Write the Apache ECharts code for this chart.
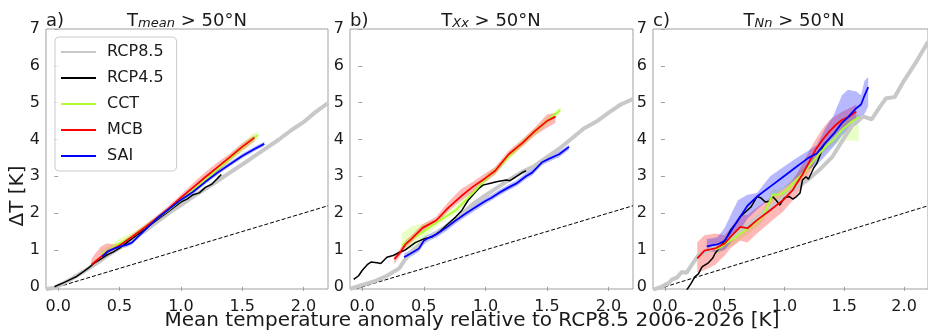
<!DOCTYPE html>
<html>
<head>
<meta charset="utf-8">
<script src="https://cdn.jsdelivr.net/npm/echarts@6/dist/echarts.min.js"></script>
<style>
html,body{margin:0;padding:0;background:#fff}
#chart{width:928px;height:331px}
</style>
</head>
<body>
<div id="chart"></div>
<script>
const xTicks=[0,0.5,1.0,1.5,2.0]
const yTicks=[0,1,2,3,4,5,6,7]
const legendNames=['RCP8.5','RCP4.5','CCT','MCB','SAI']
const panelLabels=['a)','b)','c)']
const panelVars=['mean','Xx','Nn']
const oneToOne=[[-0.1,-0.1],[2.2,2.2]]

// panel a  (Tmean)
const aRCP85=[[-0.1,-0.06],[-0.05,-0.04],[0.0,0.02],[0.1,0.2],[0.2,0.4],[0.3,0.62],[0.4,0.85],[0.5,1.05],[0.6,1.28],[0.7,1.5],[0.8,1.75],[0.9,2.0],[1.0,2.22],[1.1,2.45],[1.2,2.66],[1.3,2.88],[1.4,3.1],[1.5,3.32],[1.6,3.55],[1.7,3.77],[1.8,4.0],[1.9,4.25],[2.0,4.47],[2.1,4.75],[2.2,4.99]]
const aRCP45=[[-0.03,0.0],[0.0,0.05],[0.05,0.12],[0.1,0.2],[0.15,0.28],[0.2,0.4],[0.25,0.52],[0.3,0.66],[0.35,0.76],[0.4,0.87],[0.45,0.95],[0.5,1.05],[0.6,1.3],[0.7,1.55],[0.8,1.8],[0.9,2.05],[1.0,2.3],[1.05,2.38],[1.1,2.5],[1.15,2.55],[1.2,2.7],[1.25,2.78],[1.3,2.95],[1.33,3.05]]
const aCCT=[[0.35,0.88],[0.42,1.0],[0.5,1.18],[0.6,1.36],[0.7,1.6],[0.8,1.84],[0.9,2.08],[1.0,2.35],[1.1,2.62],[1.2,2.9],[1.3,3.2],[1.4,3.48],[1.5,3.78],[1.58,4.0],[1.63,4.12]]
const aCCTband=[[0.35,0.8,1.0],[0.42,0.92,1.12],[0.5,1.08,1.32],[0.6,1.28,1.46],[0.7,1.52,1.68],[0.8,1.76,1.92],[0.9,2.0,2.16],[1.0,2.27,2.43],[1.1,2.54,2.7],[1.2,2.82,2.98],[1.3,3.1,3.3],[1.4,3.38,3.58],[1.5,3.66,3.9],[1.58,3.88,4.15],[1.63,4.0,4.22]]
const aMCB=[[0.27,0.6],[0.3,0.68],[0.35,0.82],[0.4,0.95],[0.45,1.03],[0.5,1.12],[0.6,1.35],[0.7,1.6],[0.8,1.85],[0.9,2.12],[1.0,2.42],[1.1,2.7],[1.2,2.98],[1.3,3.25],[1.4,3.52],[1.5,3.8],[1.6,4.05]]
const aMCBband=[[0.27,0.5,0.75],[0.3,0.55,0.9],[0.35,0.65,1.1],[0.4,0.8,1.18],[0.45,0.95,1.15],[0.5,1.05,1.2],[0.6,1.28,1.42],[0.7,1.53,1.67],[0.8,1.78,1.92],[0.9,2.04,2.2],[1.0,2.33,2.5],[1.1,2.6,2.82],[1.2,2.85,3.12],[1.3,3.13,3.38],[1.4,3.42,3.62],[1.5,3.7,3.9],[1.6,3.95,4.12]]
const aSAI=[[0.36,0.82],[0.4,0.95],[0.45,1.03],[0.5,1.09],[0.55,1.13],[0.6,1.2],[0.7,1.52],[0.8,1.84],[0.9,2.1],[1.0,2.36],[1.1,2.58],[1.2,2.85],[1.3,3.1],[1.4,3.33],[1.5,3.55],[1.6,3.74],[1.68,3.88]]
const aSAIband=[[0.36,0.76,0.88],[0.4,0.89,1.01],[0.45,0.97,1.09],[0.5,1.03,1.15],[0.55,1.07,1.19],[0.6,1.14,1.26],[0.7,1.46,1.58],[0.8,1.78,1.9],[0.9,2.04,2.16],[1.0,2.3,2.42],[1.1,2.52,2.64],[1.2,2.79,2.91],[1.3,3.04,3.16],[1.4,3.27,3.39],[1.5,3.49,3.61],[1.6,3.68,3.8],[1.68,3.82,3.94]]

// panel b  (TXx)
const bRCP85=[[-0.1,-0.06],[0.0,0.05],[0.1,0.15],[0.2,0.3],[0.3,0.5],[0.35,0.75],[0.4,0.95],[0.5,1.25],[0.6,1.45],[0.7,1.68],[0.8,1.95],[0.9,2.25],[1.0,2.48],[1.1,2.7],[1.2,2.92],[1.3,3.12],[1.4,3.28],[1.5,3.52],[1.6,3.75],[1.7,4.02],[1.8,4.3],[1.9,4.48],[2.0,4.72],[2.1,4.95],[2.2,5.1]]
const bRCP45=[[-0.07,0.2],[-0.03,0.3],[0.0,0.45],[0.04,0.6],[0.07,0.67],[0.12,0.65],[0.15,0.63],[0.2,0.8],[0.25,0.85],[0.3,0.93],[0.35,1.0],[0.43,1.2],[0.5,1.3],[0.57,1.36],[0.63,1.5],[0.7,1.72],[0.76,1.9],[0.81,2.08],[0.86,2.35],[0.9,2.5],[0.95,2.68],[0.98,2.76],[1.05,2.82],[1.1,2.86],[1.17,2.9],[1.2,2.88],[1.25,2.99],[1.3,3.1],[1.33,3.15]]
const bCCT=[[0.32,1.12],[0.4,1.3],[0.5,1.5],[0.57,1.68],[0.65,1.85],[0.76,2.08],[0.85,2.38],[0.92,2.62],[1.0,2.92],[1.1,3.22],[1.2,3.58],[1.3,3.9],[1.4,4.2],[1.5,4.5],[1.61,4.8]]
const bCCTband=[[0.32,0.95,1.45],[0.4,1.05,1.65],[0.5,1.3,1.72],[0.57,1.55,1.78],[0.65,1.75,1.95],[0.76,1.98,2.18],[0.85,2.28,2.48],[0.92,2.52,2.72],[1.0,2.82,3.02],[1.1,3.12,3.32],[1.2,3.48,3.68],[1.3,3.8,4.0],[1.4,4.1,4.3],[1.5,4.4,4.6],[1.61,4.7,4.88]]
const bMCB=[[0.26,0.75],[0.3,0.9],[0.35,1.15],[0.4,1.3],[0.49,1.6],[0.6,1.8],[0.7,2.15],[0.8,2.45],[0.9,2.72],[1.0,2.95],[1.08,3.15],[1.19,3.6],[1.3,3.9],[1.4,4.22],[1.5,4.5],[1.57,4.62]]
const bMCBband=[[0.26,0.62,0.85],[0.3,0.8,1.0],[0.35,1.05,1.25],[0.4,1.2,1.4],[0.49,1.5,1.7],[0.6,1.7,1.9],[0.7,2.05,2.3],[0.8,2.32,2.65],[0.9,2.58,2.85],[1.0,2.85,3.08],[1.08,3.05,3.25],[1.19,3.5,3.7],[1.3,3.8,4.0],[1.4,4.1,4.32],[1.5,4.32,4.68],[1.57,4.45,4.72]]
const bSAI=[[0.34,0.8],[0.4,0.92],[0.46,1.04],[0.5,1.25],[0.54,1.33],[0.6,1.42],[0.68,1.6],[0.75,1.78],[0.84,1.99],[0.9,2.12],[1.0,2.33],[1.05,2.42],[1.11,2.55],[1.19,2.7],[1.25,2.8],[1.33,3.0],[1.38,3.1],[1.46,3.38],[1.52,3.48],[1.6,3.6],[1.68,3.8]]
const bSAIband=[[0.34,0.72,0.9],[0.4,0.83,1.02],[0.46,0.95,1.14],[0.5,1.15,1.35],[0.54,1.24,1.43],[0.6,1.33,1.52],[0.68,1.51,1.7],[0.75,1.69,1.88],[0.84,1.9,2.08],[0.9,2.03,2.21],[1.0,2.25,2.42],[1.05,2.34,2.5],[1.11,2.47,2.63],[1.19,2.62,2.78],[1.25,2.72,2.88],[1.33,2.92,3.1],[1.38,3.02,3.2],[1.46,3.3,3.47],[1.52,3.4,3.57],[1.6,3.52,3.68],[1.68,3.72,3.86]]

// panel c  (TNn)
const cRCP85=[[-0.1,-0.08],[-0.03,0.0],[0.03,0.1],[0.06,0.2],[0.1,0.25],[0.14,0.4],[0.18,0.38],[0.23,0.62],[0.28,0.86],[0.35,0.95],[0.4,1.05],[0.5,1.2],[0.6,1.45],[0.7,1.7],[0.8,1.95],[0.9,2.2],[1.0,2.45],[1.1,2.7],[1.2,2.92],[1.3,3.2],[1.4,3.53],[1.5,4.05],[1.58,4.45],[1.66,4.62],[1.73,4.55],[1.8,4.9],[1.85,5.12],[1.92,5.15],[2.0,5.6],[2.1,6.1],[2.2,6.65]]
const cRCP45=[[0.18,-0.1],[0.22,0.1],[0.25,0.27],[0.28,0.35],[0.31,0.54],[0.36,0.64],[0.4,0.78],[0.42,0.91],[0.47,1.13],[0.51,1.3],[0.55,1.54],[0.6,1.75],[0.63,1.9],[0.68,2.05],[0.72,2.17],[0.77,2.45],[0.8,2.42],[0.84,2.3],[0.87,2.32],[0.9,2.45],[0.93,2.35],[0.96,2.22],[1.0,2.42],[1.04,2.45],[1.07,2.38],[1.1,2.45],[1.13,2.55],[1.15,2.9],[1.18,2.99],[1.2,2.92],[1.24,3.2],[1.27,3.35],[1.3,3.6],[1.33,3.88]]
const cCCT=[[0.42,1.0],[0.47,1.08],[0.52,1.2],[0.58,1.32],[0.63,1.45],[0.7,1.6],[0.76,1.75],[0.82,1.92],[0.86,2.2],[0.9,2.5],[0.95,2.5],[0.99,2.55],[1.05,2.72],[1.1,2.9],[1.18,3.17],[1.25,3.45],[1.34,3.8],[1.41,4.0],[1.48,4.26],[1.56,4.48],[1.62,4.6]]
const cCCTband=[[0.42,0.88,1.12],[0.47,0.95,1.22],[0.52,1.05,1.35],[0.58,1.17,1.47],[0.63,1.3,1.6],[0.7,1.45,1.75],[0.76,1.6,1.9],[0.82,1.77,2.07],[0.86,2.05,2.35],[0.9,2.33,2.65],[0.95,2.35,2.65],[0.99,2.4,2.7],[1.05,2.57,2.87],[1.1,2.75,3.05],[1.18,3.02,3.32],[1.25,3.3,3.6],[1.34,3.65,3.95],[1.41,3.85,4.15],[1.48,3.95,4.45],[1.56,3.98,4.62],[1.62,3.95,4.7]]
const cMCB=[[0.27,0.77],[0.33,0.98],[0.42,1.04],[0.5,1.18],[0.55,1.36],[0.63,1.63],[0.69,1.59],[0.77,1.81],[0.88,2.08],[0.99,2.36],[1.07,2.63],[1.1,2.8],[1.15,3.05],[1.2,3.35],[1.26,3.72],[1.32,4.0],[1.37,4.2],[1.43,4.4],[1.48,4.53],[1.54,4.62],[1.6,4.76]]
const cMCBband=[[0.27,0.4,1.2],[0.33,0.45,1.4],[0.42,0.6,1.45],[0.5,0.85,1.4],[0.55,1.05,1.6],[0.63,1.25,1.95],[0.69,1.2,1.95],[0.77,1.45,2.15],[0.88,1.75,2.4],[0.99,2.05,2.65],[1.07,2.35,2.9],[1.1,2.5,3.05],[1.15,2.7,3.35],[1.2,3.0,3.65],[1.26,3.45,4.0],[1.32,3.75,4.3],[1.37,3.95,4.5],[1.43,4.15,4.65],[1.48,4.3,4.75],[1.54,4.4,4.85],[1.6,4.5,4.95]]
const cSAI=[[0.35,1.1],[0.4,1.13],[0.44,1.15],[0.5,1.25],[0.55,1.5],[0.61,1.81],[0.69,2.2],[0.77,2.45],[0.88,2.72],[0.99,2.99],[1.1,3.26],[1.2,3.5],[1.27,3.62],[1.34,3.9],[1.41,4.15],[1.48,4.45],[1.53,4.6],[1.6,4.85],[1.64,4.95],[1.67,5.2],[1.7,5.42]]
const cSAIband=[[0.35,0.95,1.3],[0.4,0.95,1.32],[0.44,0.95,1.35],[0.5,1.0,1.6],[0.55,1.2,1.95],[0.61,1.45,2.35],[0.69,1.85,2.5],[0.77,2.1,2.55],[0.88,2.4,3.0],[0.99,2.65,3.25],[1.1,2.95,3.5],[1.2,3.2,3.7],[1.27,3.3,3.85],[1.34,3.55,4.3],[1.41,3.8,4.65],[1.48,4.1,5.2],[1.53,4.25,5.35],[1.6,4.4,5.3],[1.64,4.5,5.2],[1.67,4.7,5.6],[1.7,4.9,5.7]]

const panels=[
  {rcp85:aRCP85,rcp45:aRCP45,cct:aCCT,cctBand:aCCTband,mcb:aMCB,mcbBand:aMCBband,sai:aSAI,saiBand:aSAIband},
  {rcp85:bRCP85,rcp45:bRCP45,cct:bCCT,cctBand:bCCTband,mcb:bMCB,mcbBand:bMCBband,sai:bSAI,saiBand:bSAIband},
  {rcp85:cRCP85,rcp45:cRCP45,cct:cCCT,cctBand:cCCTband,mcb:cMCB,mcbBand:cMCBband,sai:cSAI,saiBand:cSAIband}
]

const FONT='DejaVu Sans'
const gridLeft=[46,350,653]
const colors={RCP85:'#c8c8c8',RCP45:'#000000',CCT:'#adff2f',MCB:'#ff0000',SAI:'#0000ff'}

function line(name,data,color,width,g){
  return {name:name,type:'line',xAxisIndex:g,yAxisIndex:g,data:data,symbol:'none',
    lineStyle:{color:color,width:width},itemStyle:{color:color},silent:true}
}
// shaded spread: one polygon through the library's coordinate system
function band(name,data,color,g){
  return {name:name+' range',type:'custom',xAxisIndex:g,yAxisIndex:g,silent:true,clip:true,
    data:data,encode:{x:0,y:[1,2]},
    renderItem:function(params,api){
      if(params.dataIndex!==0) return null
      const up=data.map(d=>api.coord([d[0],d[2]]))
      const dn=data.map(d=>api.coord([d[0],d[1]])).reverse()
      return {type:'polygon',shape:{points:up.concat(dn)},style:{fill:color,opacity:0.28},silent:true}
    }}
}

const grids=[],xAxes=[],yAxes=[],series=[],titles=[]
panels.forEach((p,g)=>{
  grids.push({left:gridLeft[g],top:29,width:g==1?283:282,height:260,show:true,borderColor:'#a0a0a0',borderWidth:1})
  xAxes.push({type:'value',gridIndex:g,min:-0.1,max:2.2,
    axisLine:{show:false},splitLine:{show:false},
    axisTick:{show:true,length:4,customValues:xTicks,lineStyle:{color:'#a0a0a0'}},
    axisLabel:{customValues:xTicks,formatter:v=>v.toFixed(1),fontSize:16,fontFamily:FONT,color:'#1a1a1a',margin:10}})
  yAxes.push({type:'value',gridIndex:g,min:-0.06,max:7,
    axisLine:{show:false},splitLine:{show:false},
    axisTick:{show:true,length:4,customValues:yTicks,lineStyle:{color:'#a0a0a0'}},
    axisLabel:{customValues:yTicks,fontSize:16,fontFamily:FONT,color:'#1a1a1a',margin:6}})
  series.push({name:'1:1',type:'line',xAxisIndex:g,yAxisIndex:g,data:oneToOne,symbol:'none',silent:true,
    lineStyle:{color:'#000',width:1,type:[4,2]}})
  series.push(line('RCP8.5',p.rcp85,colors.RCP85,4,g))
  series.push(line('RCP4.5',p.rcp45,colors.RCP45,1.5,g))
  series.push(band('CCT',p.cctBand,colors.CCT,g))
  series.push(line('CCT',p.cct,colors.CCT,1.8,g))
  series.push(band('MCB',p.mcbBand,colors.MCB,g))
  series.push(line('MCB',p.mcb,colors.MCB,1.8,g))
  series.push(band('SAI',p.saiBand,colors.SAI,g))
  series.push(line('SAI',p.sai,colors.SAI,1.8,g))

  titles.push({text:panelLabels[g],left:gridLeft[g],top:12,padding:0,
    textStyle:{fontSize:18,fontWeight:'normal',fontFamily:FONT,color:'#1a1a1a'}})
  titles.push({text:'{t|T}{s|'+panelVars[g]+'}{t| > 50°N}',left:gridLeft[g]+141,textAlign:'center',top:12,padding:0,
    textStyle:{fontSize:18,fontWeight:'normal',fontFamily:FONT,color:'#1a1a1a',
      rich:{t:{fontSize:18,fontFamily:FONT,color:'#1a1a1a',verticalAlign:'bottom'},
            s:{fontSize:13,fontStyle:'italic',fontFamily:FONT,color:'#1a1a1a',verticalAlign:'bottom'}}}})
})
titles.push({text:'Mean temperature anomaly relative to RCP8.5 2006-2026 [K]',left:472,textAlign:'center',top:311,padding:0,
  textStyle:{fontSize:20,fontWeight:'normal',fontFamily:FONT,color:'#1a1a1a'}})

const chart=echarts.init(document.getElementById('chart'),null,{renderer:'canvas'})
chart.setOption({
  animation:false,
  backgroundColor:'#fff',
  title:titles,
  grid:grids,
  xAxis:xAxes,
  yAxis:yAxes,
  legend:{data:legendNames,orient:'vertical',left:55,top:37,itemWidth:35,itemHeight:14,itemGap:10,
    padding:[7,13,7,5],borderColor:'#cccccc',borderWidth:1,borderRadius:4,backgroundColor:'rgba(255,255,255,0.8)',
    itemStyle:{opacity:0,borderWidth:0,color:'rgba(0,0,0,0)'},
    textStyle:{fontSize:16,fontFamily:FONT,color:'#1a1a1a',padding:[0,0,0,6]},selectedMode:false},
  graphic:[{type:'text',x:18,y:196,rotation:Math.PI/2,
    style:{text:'ΔT [K]',font:'20px "DejaVu Sans"',fill:'#1a1a1a',align:'center',verticalAlign:'middle'}}],
  series:series
})
</script>
</body>
</html>
